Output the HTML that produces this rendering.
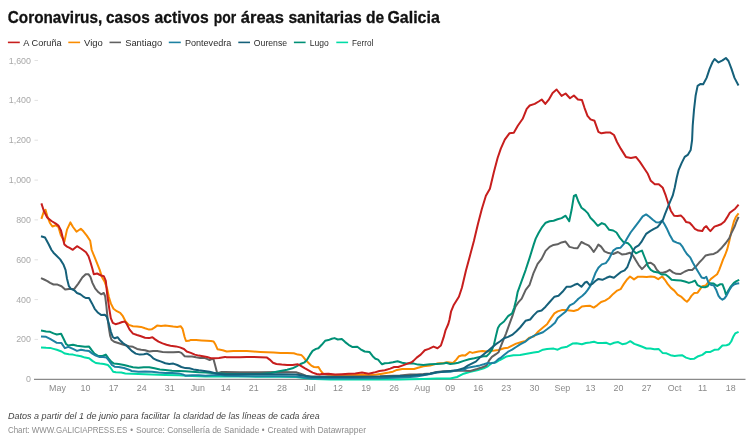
<!DOCTYPE html>
<html lang="es"><head><meta charset="utf-8"><title>Coronavirus, casos activos por áreas sanitarias de Galicia</title>
<style>
html,body{margin:0;padding:0;background:#fff;}
body{width:756px;height:447px;overflow:hidden;font-family:"Liberation Sans",sans-serif;}
svg{display:block}
svg text{font-family:"Liberation Sans",sans-serif;}
.title{font-weight:bold;font-size:17px;fill:#111;stroke:#111;stroke-width:0.3px;}
.leg{font-size:9.4px;fill:#2b2b2b;}
.yl{font-size:8.9px;fill:#a9a9a9;text-anchor:end;}
.xl{font-size:8.9px;fill:#8a8a8a;text-anchor:middle;}
.note{font-size:9.4px;font-style:italic;fill:#444;}
.foot{font-size:9px;fill:#8c8c8c;}
.ln{fill:none;stroke-linejoin:round;stroke-linecap:butt;}
</style></head><body>
<svg width="756" height="447" viewBox="0 0 756 447">
<rect width="756" height="447" fill="#ffffff"/>
<text class="title" y="22.6"><tspan x="7.8" textLength="94.4" lengthAdjust="spacingAndGlyphs">Coronavirus,</tspan> <tspan x="106.0" textLength="43.7" lengthAdjust="spacingAndGlyphs">casos</tspan> <tspan x="154.6" textLength="54.1" lengthAdjust="spacingAndGlyphs">activos</tspan> <tspan x="213.7" textLength="22.4" lengthAdjust="spacingAndGlyphs">por</tspan> <tspan x="240.8" textLength="43.1" lengthAdjust="spacingAndGlyphs">áreas</tspan> <tspan x="288.4" textLength="73.3" lengthAdjust="spacingAndGlyphs">sanitarias</tspan> <tspan x="365.9" textLength="18.2" lengthAdjust="spacingAndGlyphs">de</tspan> <tspan x="387.4" textLength="52.4" lengthAdjust="spacingAndGlyphs">Galicia</tspan></text>
<line x1="7.9" y1="42.4" x2="19.8" y2="42.4" stroke="#c71e1d" stroke-width="1.6"/><text class="leg" x="23.3" y="46" textLength="38.4" lengthAdjust="spacingAndGlyphs">A Coruña</text>
<line x1="68.3" y1="42.4" x2="80.1" y2="42.4" stroke="#fa8c00" stroke-width="1.6"/><text class="leg" x="84.1" y="46" textLength="18.8" lengthAdjust="spacingAndGlyphs">Vigo</text>
<line x1="109.5" y1="42.4" x2="121" y2="42.4" stroke="#616161" stroke-width="1.6"/><text class="leg" x="125.2" y="46" textLength="36.9" lengthAdjust="spacingAndGlyphs">Santiago</text>
<line x1="168.8" y1="42.4" x2="180.8" y2="42.4" stroke="#1d81a2" stroke-width="1.6"/><text class="leg" x="184.9" y="46" textLength="46.4" lengthAdjust="spacingAndGlyphs">Pontevedra</text>
<line x1="238.3" y1="42.4" x2="250" y2="42.4" stroke="#15607a" stroke-width="1.6"/><text class="leg" x="253.8" y="46" textLength="33.3" lengthAdjust="spacingAndGlyphs">Ourense</text>
<line x1="293.9" y1="42.4" x2="305.6" y2="42.4" stroke="#009076" stroke-width="1.6"/><text class="leg" x="309.8" y="46" textLength="19.0" lengthAdjust="spacingAndGlyphs">Lugo</text>
<line x1="336.3" y1="42.4" x2="348.1" y2="42.4" stroke="#00dca6" stroke-width="1.6"/><text class="leg" x="352" y="46" textLength="21.3" lengthAdjust="spacingAndGlyphs">Ferrol</text>
<text class="yl" x="31" y="382.3">0</text><text class="yl" x="31" y="342.4">200</text><line x1="34.5" y1="339.4" x2="38" y2="339.4" stroke="#e2e2e2" stroke-width="1"/>
<text class="yl" x="31" y="302.6">400</text><line x1="34.5" y1="299.6" x2="38" y2="299.6" stroke="#e2e2e2" stroke-width="1"/>
<text class="yl" x="31" y="262.8">600</text><line x1="34.5" y1="259.8" x2="38" y2="259.8" stroke="#e2e2e2" stroke-width="1"/>
<text class="yl" x="31" y="222.9">800</text><line x1="34.5" y1="219.9" x2="38" y2="219.9" stroke="#e2e2e2" stroke-width="1"/>
<text class="yl" x="31" y="183.1">1,000</text><line x1="34.5" y1="180.1" x2="38" y2="180.1" stroke="#e2e2e2" stroke-width="1"/>
<text class="yl" x="31" y="143.2">1,200</text><line x1="34.5" y1="140.2" x2="38" y2="140.2" stroke="#e2e2e2" stroke-width="1"/>
<text class="yl" x="31" y="103.4">1,400</text><line x1="34.5" y1="100.4" x2="38" y2="100.4" stroke="#e2e2e2" stroke-width="1"/>
<text class="yl" x="31" y="63.5">1,600</text><line x1="34.5" y1="60.5" x2="38" y2="60.5" stroke="#e2e2e2" stroke-width="1"/>
<text class="xl" x="57.5" y="390.9">May</text><text class="xl" x="85.5" y="390.9">10</text><text class="xl" x="113.6" y="390.9">17</text><text class="xl" x="141.7" y="390.9">24</text><text class="xl" x="169.7" y="390.9">31</text><text class="xl" x="197.8" y="390.9">Jun</text><text class="xl" x="225.8" y="390.9">14</text><text class="xl" x="253.8" y="390.9">21</text><text class="xl" x="281.9" y="390.9">28</text><text class="xl" x="310.0" y="390.9">Jul</text><text class="xl" x="338.0" y="390.9">12</text><text class="xl" x="366.1" y="390.9">19</text><text class="xl" x="394.1" y="390.9">26</text><text class="xl" x="422.2" y="390.9">Aug</text><text class="xl" x="450.2" y="390.9">09</text><text class="xl" x="478.2" y="390.9">16</text><text class="xl" x="506.3" y="390.9">23</text><text class="xl" x="534.4" y="390.9">30</text><text class="xl" x="562.4" y="390.9">Sep</text><text class="xl" x="590.5" y="390.9">13</text><text class="xl" x="618.5" y="390.9">20</text><text class="xl" x="646.6" y="390.9">27</text><text class="xl" x="674.6" y="390.9">Oct</text><text class="xl" x="702.6" y="390.9">11</text><text class="xl" x="730.7" y="390.9">18</text>
<line x1="34" y1="379.3" x2="745.5" y2="379.3" stroke="#8a8a8a" stroke-width="1.3"/>
<g>
<path class="ln" d="M41.4,218.9 L43.8,211.5 L45.5,209.8 L47.2,215.8 L49.8,222.7 L52.4,226.5 L55.8,225.3 L58.4,227.0 L61.0,235.6 L64.4,241.6 L67.0,229.6 L70.4,222.4 L73.0,227.0 L76.5,231.7 L80.8,228.7 L83.4,231.3 L86.8,235.6 L90.2,240.8 L91.7,250.0 L94.4,256.7 L97.1,263.4 L99.8,270.1 L101.8,276.8 L104.5,281.5 L107.2,288.9 L108.8,296.7 L110.8,303.4 L113.5,308.8 L116.8,311.2 L120.2,312.8 L122.9,316.2 L125.6,321.5 L128.9,324.9 L133.0,326.2 L137.0,326.5 L141.0,326.9 L145.0,328.3 L149.1,329.6 L151.7,329.3 L154.4,327.6 L157.1,325.6 L161.1,326.0 L165.2,325.6 L169.2,326.0 L173.2,326.5 L177.2,326.9 L180.6,326.2 L182.6,328.9 L184.6,337.0 L186.0,341.0 L188.8,340.8 L190.8,339.9 L196.1,340.1 L201.5,340.4 L206.9,340.8 L210.9,341.1 L213.6,341.5 L215.6,344.8 L217.6,349.3 L220.3,349.8 L222.7,350.2 L226.7,351.5 L233.4,350.9 L240.1,351.1 L246.8,351.1 L253.6,351.5 L260.3,351.9 L267.0,352.2 L273.7,352.5 L280.4,352.9 L287.1,352.9 L293.8,353.3 L297.9,354.6 L301.2,354.9 L303.2,356.9 L305.9,360.3 L308.6,363.0 L311.3,365.6 L314.0,367.0 L316.6,367.2 L318.4,367.0 L320.4,370.3 L323.1,373.7 L328.4,374.8 L341.8,375.3 L355.3,375.0 L362.0,374.8 L368.7,375.3 L375.4,374.8 L382.1,373.7 L388.8,372.6 L392.9,371.7 L396.9,369.9 L402.2,369.0 L409.0,369.0 L414.0,369.0 L418.1,367.7 L423.4,366.3 L430.1,365.6 L436.8,363.6 L443.6,363.0 L447.6,362.3 L453.0,363.0 L456.3,359.6 L459.0,356.2 L462.3,355.2 L465.0,355.6 L467.7,353.6 L469.7,351.9 L472.4,352.9 L475.1,352.2 L478.5,351.5 L482.5,350.9 L486.5,351.5 L490.5,350.9 L494.6,350.6 L498.6,350.0 L504.0,348.3 L508.1,347.7 L512.1,345.6 L516.1,343.6 L520.8,342.3 L525.5,340.9 L529.5,337.6 L534.2,336.2 L538.3,331.5 L543.0,327.5 L547.0,324.2 L551.0,318.1 L554.4,313.4 L557.7,311.4 L561.7,310.1 L565.8,310.1 L569.8,310.5 L573.8,311.0 L577.9,309.7 L581.9,306.4 L585.9,306.0 L589.7,305.7 L593.7,307.6 L597.1,305.3 L601.1,302.0 L605.1,300.6 L609.2,298.0 L613.2,293.9 L617.2,290.6 L620.6,289.2 L623.9,283.9 L627.3,279.2 L630.0,276.5 L634.0,279.4 L638.0,276.7 L642.7,276.7 L646.7,277.1 L650.8,276.5 L654.8,277.1 L658.2,279.2 L662.2,276.5 L664.9,279.8 L667.6,283.9 L670.9,287.9 L674.3,290.6 L677.6,294.6 L681.0,296.6 L684.9,300.3 L686.9,301.7 L688.9,299.7 L691.6,295.6 L694.3,293.0 L697.6,292.7 L700.3,288.9 L702.3,286.2 L705.7,285.6 L708.3,282.2 L711.0,278.9 L714.4,276.2 L717.1,274.2 L719.1,270.1 L721.1,264.8 L723.1,259.4 L725.1,255.0 L727.1,249.7 L729.2,241.6 L730.5,235.6 L731.8,229.5 L733.9,221.5 L735.9,216.8 L738.6,213.4" stroke="#fa8c00" stroke-width="2.0"/>
<path class="ln" d="M41.0,347.5 L46.1,347.8 L50.1,347.9 L53.5,348.9 L56.8,349.8 L61.5,351.5 L64.9,353.6 L68.9,354.2 L73.0,354.6 L77.0,355.6 L81.0,356.2 L85.0,357.6 L89.1,358.3 L92.4,360.9 L95.8,363.0 L99.8,363.6 L103.8,364.0 L107.9,365.0 L110.5,367.7 L113.2,371.7 L115.9,372.3 L121.3,372.6 L125.3,373.4 L131.7,373.7 L138.4,374.0 L151.8,374.4 L165.3,375.0 L178.7,375.3 L192.1,376.1 L205.5,376.4 L225.0,376.6 L250.0,376.6 L280.0,376.8 L296.0,377.0 L304.0,378.0 L315.0,379.0 L330.0,379.4 L400.0,379.4 L410.0,379.3 L423.4,379.0 L436.8,378.6 L450.3,378.4 L457.0,377.0 L463.7,373.7 L470.4,371.7 L477.1,370.3 L483.8,368.3 L487.9,366.3 L491.9,363.0 L495.9,362.3 L499.9,360.0 L506.7,356.4 L513.4,355.3 L520.1,355.0 L526.8,353.7 L533.6,352.6 L538.9,351.7 L543.0,349.7 L547.0,349.0 L553.7,348.6 L557.7,349.7 L561.7,347.7 L567.1,346.7 L572.5,343.6 L576.5,343.2 L581.9,344.3 L585.9,343.0 L590.0,342.6 L594.0,341.7 L598.1,343.1 L602.1,343.1 L606.1,342.8 L610.1,344.4 L614.2,342.8 L618.2,342.1 L622.2,344.2 L626.2,343.5 L630.3,341.2 L634.3,343.9 L638.3,345.2 L642.3,346.8 L646.4,348.5 L650.4,348.5 L654.4,349.3 L658.5,348.9 L662.5,352.9 L666.5,353.3 L670.5,355.2 L674.6,356.0 L678.6,355.6 L682.0,355.2 L686.0,357.6 L690.0,358.9 L694.3,358.7 L698.3,356.2 L702.3,354.9 L706.3,351.9 L710.4,351.9 L714.4,349.8 L718.4,349.5 L722.4,345.5 L726.5,345.2 L729.2,344.2 L731.2,341.5 L733.2,336.8 L735.2,333.4 L738.6,331.8" stroke="#00dca6" stroke-width="2.0"/>
<path class="ln" d="M41.0,278.2 L44.1,279.5 L47.4,281.1 L50.1,282.9 L53.5,284.5 L57.5,284.6 L61.5,286.2 L65.2,289.6 L68.9,288.9 L74.3,288.9 L78.3,283.6 L82.3,277.5 L85.7,274.2 L88.4,274.2 L90.4,276.8 L92.4,282.9 L95.1,288.3 L98.5,292.3 L101.1,294.3 L103.8,293.0 L105.2,296.3 L106.4,306.1 L107.4,316.8 L108.8,327.6 L110.1,335.6 L111.5,339.7 L114.2,341.7 L118.2,343.0 L123.6,344.8 L129.0,346.2 L133.0,346.8 L137.1,348.9 L141.1,349.8 L145.1,350.2 L149.2,351.5 L153.2,350.9 L157.2,351.1 L162.6,351.9 L168.0,352.2 L173.3,352.2 L178.7,351.9 L181.4,352.9 L184.7,356.2 L188.1,356.5 L192.1,356.5 L196.1,357.3 L200.2,357.9 L204.2,357.9 L206.9,358.9 L209.6,360.0 L212.2,358.9 L213.6,359.6 L215.2,365.6 L217.0,372.5 L219.0,372.8 L221.6,372.0 L225.0,372.0 L240.0,372.2 L260.0,372.2 L280.0,372.0 L296.0,372.3 L299.0,373.2 L302.0,374.3 L306.0,375.8 L310.0,376.4 L320.0,376.6 L340.0,376.6 L360.0,376.5 L380.0,376.3 L400.0,375.5 L410.0,374.4 L416.7,374.4 L423.4,374.0 L430.1,373.4 L436.8,372.1 L443.6,371.3 L450.3,371.0 L457.0,370.7 L463.7,370.7 L470.4,371.0 L477.1,369.0 L482.5,367.2 L486.5,365.6 L489.2,360.3 L491.9,356.9 L495.9,354.2 L498.6,352.2 L500.0,348.3 L502.7,341.6 L506.0,333.6 L509.4,324.2 L512.8,314.8 L515.4,306.7 L518.1,302.7 L521.7,298.7 L525.7,289.8 L529.6,284.8 L533.6,272.8 L537.6,263.9 L541.6,258.9 L545.6,250.9 L549.6,246.9 L553.5,244.9 L557.5,244.3 L561.5,242.4 L565.5,241.6 L569.5,246.9 L573.5,247.9 L577.5,248.3 L581.4,242.0 L585.0,243.9 L588.4,245.3 L591.0,248.0 L593.7,252.0 L596.4,248.0 L598.4,244.6 L601.1,246.6 L604.5,251.3 L608.5,253.1 L613.2,254.0 L617.9,252.0 L621.9,254.4 L626.0,254.0 L630.0,252.7 L632.7,255.3 L635.3,259.4 L638.7,265.1 L642.0,269.1 L644.7,266.4 L647.4,263.3 L650.8,262.8 L654.1,265.1 L656.8,269.8 L659.5,272.4 L662.9,272.7 L666.2,271.8 L669.6,269.8 L672.9,272.4 L676.3,273.8 L680.3,274.1 L684.9,271.5 L688.2,270.1 L692.2,269.9 L695.6,266.8 L699.0,262.8 L702.3,259.4 L705.7,255.4 L709.7,254.5 L713.7,253.9 L717.7,251.8 L721.8,247.7 L725.8,243.0 L729.2,238.3 L731.8,232.2 L734.5,226.8 L736.5,221.5 L738.6,216.8" stroke="#616161" stroke-width="2.0"/>
<path class="ln" d="M41.0,330.5 L46.1,331.4 L50.1,331.8 L53.5,333.4 L56.8,334.5 L61.1,333.8 L63.6,338.8 L66.2,344.2 L68.3,345.5 L73.0,344.8 L77.0,345.8 L81.0,346.2 L85.0,346.8 L89.1,346.6 L91.7,350.2 L94.4,353.6 L98.5,356.0 L102.5,356.0 L105.8,354.6 L108.5,358.3 L111.2,361.6 L113.9,363.6 L118.6,364.0 L124.0,365.0 L129.0,366.3 L133.0,367.2 L138.4,367.7 L143.8,367.2 L149.2,367.2 L154.5,368.3 L159.9,369.4 L165.3,369.9 L172.0,370.7 L178.7,371.0 L185.4,371.3 L192.1,371.7 L198.8,372.3 L205.5,372.6 L212.2,373.0 L219.0,373.4 L225.0,373.7 L240.0,374.0 L260.0,374.0 L271.0,373.0 L276.4,371.7 L281.7,370.7 L287.1,369.7 L292.5,368.3 L296.5,366.3 L300.5,364.0 L304.6,362.3 L307.2,359.6 L309.9,354.9 L312.6,350.9 L316.0,348.9 L318.4,348.2 L321.7,344.8 L325.1,340.8 L328.4,340.1 L331.8,338.8 L334.5,338.1 L337.8,339.5 L341.8,339.1 L345.2,342.1 L348.6,344.8 L352.6,347.1 L357.3,346.8 L360.6,349.3 L364.7,351.5 L369.4,351.9 L372.7,356.2 L375.4,358.7 L378.1,359.6 L380.8,363.0 L382.1,364.3 L384.8,363.2 L388.8,363.0 L392.9,362.3 L397.6,361.3 L402.2,362.7 L406.3,363.6 L410.3,363.2 L414.0,363.6 L418.1,364.6 L423.4,365.0 L430.1,364.3 L436.8,364.0 L443.6,363.6 L446.2,362.7 L450.3,364.0 L454.3,363.6 L458.3,362.7 L463.7,360.9 L469.1,359.2 L474.4,358.3 L479.8,356.9 L483.8,356.2 L486.5,356.2 L489.2,353.6 L491.9,349.8 L493.9,344.8 L495.9,336.1 L497.9,328.0 L499.9,324.7 L504.0,321.5 L508.1,316.1 L512.1,313.4 L514.1,308.0 L516.1,300.0 L517.7,291.8 L521.7,280.8 L525.7,269.8 L529.6,257.9 L533.6,244.9 L535.7,238.6 L538.7,232.7 L541.7,227.7 L545.7,222.7 L549.6,221.3 L553.6,220.7 L557.6,219.3 L561.6,218.1 L565.6,215.7 L569.2,221.3 L571.6,209.8 L573.9,195.8 L575.9,194.8 L578.5,201.8 L581.5,207.8 L585.0,210.4 L587.7,213.1 L590.4,217.8 L594.4,221.8 L597.8,225.8 L601.8,223.1 L605.1,224.5 L609.2,229.8 L613.2,230.5 L616.5,232.5 L619.9,237.9 L623.3,241.9 L628.0,243.3 L630.6,245.9 L633.3,250.6 L636.0,253.3 L639.4,251.7 L642.0,250.6 L644.1,256.0 L646.1,261.0 L648.1,266.4 L650.8,269.8 L654.1,271.8 L658.2,272.4 L661.5,274.5 L665.5,274.5 L668.2,276.5 L671.6,279.8 L676.3,280.2 L680.8,280.6 L684.9,281.5 L688.9,282.9 L692.2,281.9 L694.9,280.6 L697.6,285.2 L701.0,286.9 L705.0,287.3 L707.7,286.2 L709.7,283.3 L713.7,283.6 L717.1,286.0 L720.4,284.2 L722.4,284.2 L724.5,289.6 L725.8,294.3 L727.8,291.6 L730.5,286.9 L733.9,282.9 L736.5,281.1 L739.2,279.8" stroke="#009076" stroke-width="2.0"/>
<path class="ln" d="M41.4,203.4 L43.8,210.7 L47.2,217.5 L51.5,221.0 L55.8,223.6 L58.4,225.6 L61.0,230.4 L64.4,244.5 L67.0,246.6 L69.6,247.9 L72.8,249.8 L77.0,246.2 L81.6,249.0 L86.0,252.3 L88.5,256.3 L90.4,262.0 L92.4,268.8 L93.8,274.2 L97.1,273.5 L101.1,275.5 L103.8,276.2 L105.8,280.9 L107.2,294.3 L108.1,300.7 L109.5,310.1 L110.8,318.2 L112.8,322.9 L115.5,324.2 L118.9,323.3 L122.2,322.0 L124.9,321.5 L126.9,324.2 L129.6,329.6 L133.0,333.6 L137.0,335.0 L141.0,336.3 L145.0,337.7 L149.1,338.1 L152.4,337.2 L155.1,339.4 L158.5,341.7 L162.5,343.4 L166.5,344.8 L170.5,345.7 L175.9,346.4 L179.9,347.4 L184.0,349.0 L186.7,351.5 L190.8,352.9 L194.8,354.6 L198.8,355.6 L202.9,356.2 L206.9,356.9 L210.9,358.3 L214.9,358.3 L219.0,357.9 L225.0,356.9 L226.7,357.3 L233.4,357.3 L240.1,357.3 L246.8,356.9 L253.6,356.9 L260.3,357.3 L267.0,357.6 L269.7,359.6 L273.0,362.7 L276.4,364.0 L281.7,364.6 L287.1,365.0 L292.5,365.0 L297.9,364.3 L300.5,365.6 L304.6,368.1 L308.6,370.3 L312.6,372.6 L316.6,374.0 L320.0,374.4 L321.7,374.0 L328.4,373.7 L335.1,374.6 L341.8,374.2 L348.6,373.7 L355.3,373.4 L362.0,372.6 L368.7,373.7 L374.0,372.6 L379.4,371.0 L384.8,370.3 L390.2,368.6 L394.2,367.0 L398.2,367.0 L402.2,365.6 L407.6,363.6 L411.6,362.3 L413.4,360.9 L416.7,357.6 L420.7,354.6 L424.8,350.2 L428.8,348.9 L433.5,346.6 L437.5,348.2 L440.9,345.5 L443.6,337.4 L445.6,330.1 L448.3,324.0 L449.5,319.5 L451.0,311.7 L453.9,304.7 L458.9,296.7 L461.9,287.8 L465.9,270.8 L469.9,255.9 L473.9,241.0 L476.5,230.0 L478.0,223.7 L481.9,208.8 L485.9,195.8 L489.9,188.8 L493.9,171.9 L497.6,158.0 L500.8,148.7 L504.8,139.7 L509.4,133.3 L513.8,132.7 L517.8,125.8 L522.7,118.8 L526.7,108.8 L529.7,105.5 L534.7,103.9 L538.7,101.5 L541.7,99.5 L545.3,103.9 L548.6,99.9 L552.6,92.9 L556.6,89.5 L561.6,95.9 L565.6,93.5 L570.0,98.3 L573.9,95.5 L577.9,99.5 L581.9,99.9 L584.5,107.8 L587.5,115.8 L590.5,119.4 L594.5,120.8 L598.4,131.8 L601.4,133.3 L606.0,132.4 L610.0,132.4 L614.0,135.0 L617.0,142.0 L620.9,148.9 L625.9,156.9 L630.9,157.9 L635.9,156.9 L639.9,161.9 L643.8,167.8 L647.8,173.8 L650.8,180.8 L654.8,184.2 L658.8,184.2 L662.8,187.8 L665.8,195.7 L668.7,204.7 L670.8,210.7 L674.1,215.8 L677.5,216.1 L680.8,215.4 L683.5,218.1 L686.2,222.1 L689.6,222.8 L692.2,225.5 L694.9,228.9 L698.3,230.6 L702.3,231.1 L704.3,227.5 L706.3,226.2 L708.3,228.9 L710.4,231.1 L712.4,228.9 L714.4,226.6 L717.7,225.5 L721.1,224.2 L724.5,221.5 L727.1,217.4 L729.8,212.8 L732.5,210.7 L735.2,208.7 L738.6,204.7" stroke="#c71e1d" stroke-width="2.0"/>
<path class="ln" d="M41.0,336.4 L46.1,336.8 L50.1,338.8 L53.5,340.8 L56.8,342.8 L61.5,343.1 L64.9,348.2 L68.3,346.8 L73.0,348.9 L77.0,350.9 L81.0,349.8 L85.0,350.6 L89.1,351.1 L92.4,353.6 L95.8,355.6 L99.1,356.9 L103.2,356.9 L106.5,357.6 L109.2,360.9 L111.9,365.0 L114.6,366.7 L118.6,367.0 L124.0,368.0 L129.0,369.7 L131.7,371.0 L138.4,371.7 L145.1,371.4 L151.8,371.7 L158.6,372.6 L165.3,373.0 L172.0,373.0 L178.7,373.4 L182.7,374.4 L185.4,375.7 L192.1,375.3 L198.8,375.3 L205.5,375.7 L212.2,375.3 L219.0,375.0 L225.0,375.7 L250.0,376.2 L280.0,376.3 L296.0,376.5 L304.0,377.6 L312.0,378.5 L350.0,378.5 L380.0,378.2 L400.0,377.4 L410.0,377.0 L416.7,376.4 L423.4,375.3 L430.1,374.0 L436.8,372.6 L443.6,371.7 L450.3,371.7 L457.0,370.3 L463.7,369.9 L467.7,367.7 L471.7,367.0 L475.8,366.3 L479.8,365.4 L483.8,364.3 L487.9,363.0 L490.5,363.2 L494.6,362.7 L498.6,358.9 L500.5,358.0 L504.0,355.0 L508.1,351.7 L512.1,349.7 L516.1,347.0 L520.1,344.3 L525.5,341.6 L529.5,338.3 L534.2,335.6 L538.9,333.8 L543.0,332.2 L547.0,329.3 L551.0,326.2 L555.0,322.8 L557.7,318.1 L561.7,314.8 L565.8,311.4 L569.8,305.4 L573.8,303.4 L577.2,300.0 L578.4,298.7 L582.4,295.7 L585.0,293.3 L587.7,289.9 L590.4,285.9 L593.1,279.2 L595.7,272.4 L598.4,267.8 L601.8,264.4 L605.8,263.1 L608.5,259.7 L609.8,257.3 L613.2,250.6 L616.5,248.2 L620.6,247.7 L623.9,243.9 L627.3,237.9 L630.6,232.5 L634.7,227.1 L638.7,221.8 L642.7,216.4 L646.1,214.4 L649.4,216.8 L652.8,219.8 L656.1,222.2 L659.5,222.4 L662.2,220.6 L664.5,224.3 L667.2,229.3 L669.8,235.0 L673.2,241.0 L676.8,242.6 L680.2,243.8 L682.2,246.3 L684.6,250.5 L686.9,254.0 L690.2,257.4 L692.9,262.8 L695.6,267.4 L698.3,272.1 L701.6,277.5 L704.3,278.2 L706.3,276.8 L708.3,282.2 L711.0,284.9 L713.7,285.2 L716.4,290.3 L718.4,295.6 L720.4,298.3 L722.4,299.7 L724.5,298.3 L726.5,295.6 L729.2,290.3 L731.8,286.2 L734.5,284.2 L737.2,283.6 L739.2,283.3" stroke="#1d81a2" stroke-width="2.0"/>
<path class="ln" d="M41.0,236.2 L45.0,237.5 L48.8,244.5 L51.5,250.0 L53.5,252.7 L56.8,256.0 L60.2,259.4 L63.6,264.8 L65.6,270.1 L66.9,278.2 L68.9,286.2 L70.9,288.9 L74.3,290.3 L77.0,293.0 L80.3,294.3 L83.0,296.3 L85.7,298.0 L89.0,298.0 L92.0,303.4 L94.7,308.8 L98.1,312.8 L101.4,315.1 L104.8,314.8 L106.8,316.8 L108.8,323.6 L110.8,331.6 L112.8,337.0 L114.8,338.3 L117.5,337.2 L119.5,339.7 L122.9,343.0 L126.2,345.3 L128.4,347.5 L131.7,350.9 L135.7,353.6 L139.8,354.6 L143.8,354.2 L147.1,353.6 L150.5,355.6 L153.2,358.3 L157.2,360.3 L161.2,361.6 L165.3,363.2 L169.3,364.0 L173.3,363.6 L177.3,365.0 L181.4,367.0 L185.4,368.1 L189.4,368.3 L193.5,369.4 L198.8,370.3 L204.2,371.0 L209.6,371.7 L216.3,373.5 L225.0,374.5 L250.0,374.3 L280.0,374.3 L296.0,374.5 L304.0,375.8 L312.0,376.9 L350.0,376.9 L380.0,376.7 L400.0,376.1 L410.0,375.7 L416.7,375.0 L423.4,374.8 L430.1,373.7 L436.8,372.3 L443.6,371.7 L450.3,371.0 L457.0,370.3 L463.7,368.3 L467.7,365.6 L471.7,363.6 L475.8,361.6 L479.8,357.6 L483.8,354.2 L487.9,350.9 L491.9,347.5 L495.9,344.2 L499.9,341.5 L504.0,338.3 L508.1,336.9 L512.1,334.9 L516.1,331.5 L520.1,327.5 L525.5,320.8 L530.2,319.5 L533.6,315.4 L537.6,311.4 L541.6,310.5 L545.6,306.7 L549.7,302.0 L554.5,296.7 L558.5,295.7 L562.5,291.8 L566.5,286.8 L570.5,286.8 L574.5,284.8 L577.5,283.8 L581.4,286.8 L585.0,282.5 L587.0,281.8 L589.7,285.2 L592.4,283.9 L595.1,281.2 L598.4,278.9 L602.4,279.8 L606.5,277.8 L609.8,276.5 L613.9,277.8 L617.2,275.1 L620.6,272.2 L624.6,270.4 L627.3,267.1 L629.6,261.0 L630.6,258.7 L632.7,251.3 L635.3,247.3 L638.7,245.3 L641.4,241.9 L644.1,237.2 L646.1,233.9 L650.1,231.2 L653.5,229.2 L657.5,227.1 L660.2,223.8 L662.9,219.8 L664.9,214.4 L666.8,209.7 L669.7,202.7 L672.7,195.7 L674.7,187.8 L676.7,177.8 L678.7,169.8 L681.7,162.9 L684.7,156.9 L687.7,154.9 L690.7,149.9 L692.1,140.0 L692.7,125.7 L694.0,109.8 L695.6,95.8 L697.6,85.9 L700.6,83.9 L703.2,84.3 L706.6,77.9 L709.6,68.9 L712.6,62.0 L714.6,59.0 L718.5,62.4 L722.5,60.4 L725.9,58.0 L728.5,61.0 L731.5,68.9 L734.5,77.9 L738.5,85.5" stroke="#15607a" stroke-width="2.0"/>
</g>
<text class="note" y="419"><tspan x="7.9" textLength="161.8" lengthAdjust="spacingAndGlyphs">Datos a partir del 1 de junio para facilitar</tspan> <tspan x="173.6" textLength="146" lengthAdjust="spacingAndGlyphs">la claridad de las líneas de cada área</tspan></text>
<text class="foot" x="7.9" y="432.5" textLength="119.4" lengthAdjust="spacingAndGlyphs">Chart: WWW.GALICIAPRESS.ES</text><text class="foot" x="130.2" y="432.5" textLength="2.8" lengthAdjust="spacingAndGlyphs">•</text><text class="foot" x="135.9" y="432.5" textLength="123.6" lengthAdjust="spacingAndGlyphs">Source: Consellería de Sanidade</text><text class="foot" x="261.8" y="432.5" textLength="2.8" lengthAdjust="spacingAndGlyphs">•</text><text class="foot" x="267.5" y="432.5" textLength="98.5" lengthAdjust="spacingAndGlyphs">Created with Datawrapper</text>
</svg></body></html>
